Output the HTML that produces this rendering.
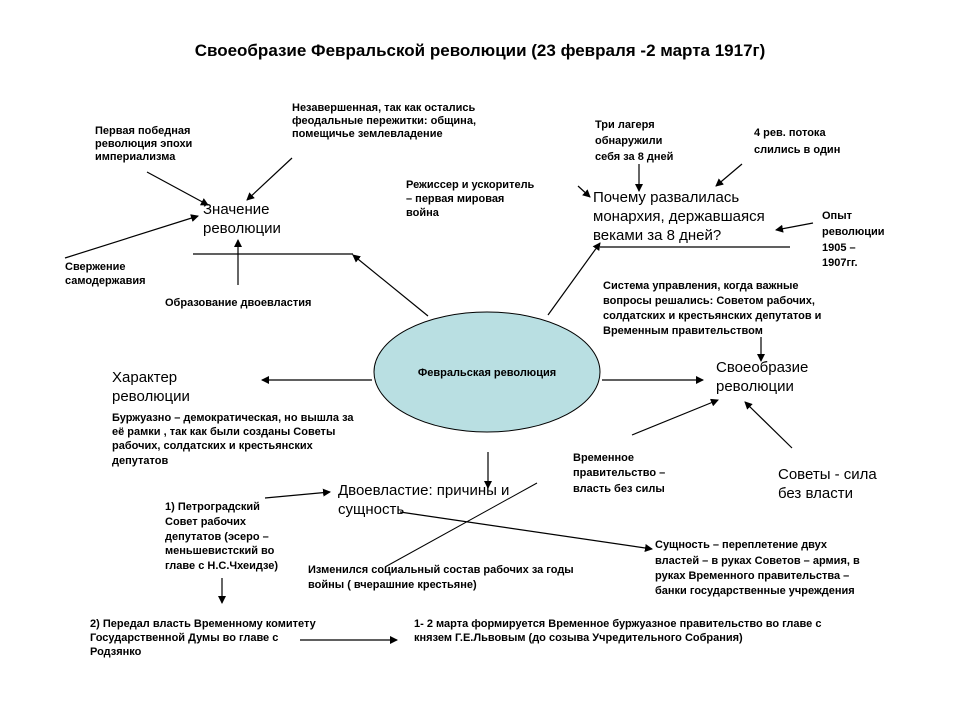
<!DOCTYPE html>
<html><head><meta charset="utf-8"><style>
html,body{margin:0;padding:0;background:#fff}
svg{display:block}
text{font-family:"Liberation Sans",sans-serif;fill:#000}
.b{font-size:11px;font-weight:bold}
.n{font-size:11px}
.h{font-size:15px}
</style></head><body>
<svg width="960" height="720" viewBox="0 0 960 720" xmlns="http://www.w3.org/2000/svg">
<defs><marker id="a" markerWidth="8" markerHeight="8" refX="7" refY="4" orient="auto" markerUnits="userSpaceOnUse"><path d="M0,0 L8,4 L0,8 z" fill="#000"/></marker></defs>
<text x="480" y="56" text-anchor="middle" style="font-size:17px;font-weight:bold">Своеобразие Февральской революции (23 февраля -2 марта 1917г)</text>
<ellipse cx="487" cy="372" rx="113" ry="60" fill="#b9dfe2" stroke="#000" stroke-width="1"/>
<text x="487" y="376" text-anchor="middle" class="b">Февральская  революция</text>
<g stroke="#000" stroke-width="1.2" fill="none">
<line x1="147" y1="172" x2="208" y2="205" marker-end="url(#a)"/>
<line x1="292" y1="158" x2="247" y2="200" marker-end="url(#a)"/>
<line x1="65" y1="258" x2="198" y2="216" marker-end="url(#a)"/>
<line x1="193" y1="254" x2="353" y2="254"/>
<line x1="238" y1="285" x2="238" y2="240" marker-end="url(#a)"/>
<line x1="428" y1="316" x2="353" y2="255" marker-end="url(#a)"/>
<line x1="578" y1="186" x2="590" y2="197" marker-end="url(#a)"/>
<line x1="639" y1="164" x2="639" y2="191" marker-end="url(#a)"/>
<line x1="742" y1="164" x2="716" y2="186" marker-end="url(#a)"/>
<line x1="600" y1="247" x2="790" y2="247"/>
<line x1="813" y1="223" x2="776" y2="230" marker-end="url(#a)"/>
<line x1="548" y1="315" x2="600" y2="243" marker-end="url(#a)"/>
<line x1="761" y1="337" x2="761" y2="361" marker-end="url(#a)"/>
<line x1="602" y1="380" x2="703" y2="380" marker-end="url(#a)"/>
<line x1="372" y1="380" x2="262" y2="380" marker-end="url(#a)"/>
<line x1="632" y1="435" x2="718" y2="400" marker-end="url(#a)"/>
<line x1="792" y1="448" x2="745" y2="402" marker-end="url(#a)"/>
<line x1="488" y1="452" x2="488" y2="488" marker-end="url(#a)"/>
<line x1="265" y1="498" x2="330" y2="492" marker-end="url(#a)"/>
<line x1="222" y1="578" x2="222" y2="603" marker-end="url(#a)"/>
<line x1="537" y1="483" x2="385" y2="567" stroke-width="1"/>
<line x1="400" y1="512" x2="652" y2="549" marker-end="url(#a)"/>
<line x1="300" y1="640" x2="397" y2="640" marker-end="url(#a)"/>
</g>
<g class="b">
<text x="95" y="134">Первая победная</text><text x="95" y="147">революция эпохи</text><text x="95" y="160">империализма</text>
<text x="292" y="111">Незавершенная, так как остались</text><text x="292" y="124">феодальные пережитки: община,</text><text x="292" y="137">помещичье землевладение</text>
<text x="65" y="270">Свержение</text><text x="65" y="284">самодержавия</text>
<text x="165" y="306">Образование двоевластия</text>
<text x="406" y="188">Режиссер  и ускоритель</text><text x="406" y="202">– первая мировая</text><text x="406" y="216">война</text>
<text x="595" y="128">Три лагеря</text><text x="595" y="144">обнаружили</text><text x="595" y="160">себя за 8 дней</text>
<text x="754" y="136">4 рев. потока</text><text x="754" y="153">слились  в  один</text>
<text x="822" y="219">Опыт</text><text x="822" y="235">революции</text><text x="822" y="251">1905 –</text><text x="822" y="266">1907гг.</text>
<text x="603" y="289">Система управления, когда важные</text><text x="603" y="304">вопросы решались: Советом рабочих,</text><text x="603" y="319">солдатских и крестьянских депутатов  и</text><text x="603" y="334">Временным правительством</text>
<text x="112" y="421">Буржуазно – демократическая, но вышла за</text><text x="112" y="435">её рамки , так как были созданы Советы</text><text x="112" y="449">рабочих, солдатских и крестьянских</text><text x="112" y="464">депутатов</text>
<text x="573" y="461">Временное</text><text x="573" y="476">правительство  –</text><text x="573" y="492">власть  без силы</text>
<text x="165" y="510">1) Петроградский</text><text x="165" y="525">Совет рабочих</text><text x="165" y="540">депутатов (эсеро –</text><text x="165" y="554">меньшевистский во</text><text x="165" y="569">главе с Н.С.Чхеидзе)</text>
<text x="308" y="573">Изменился социальный состав рабочих за годы</text><text x="308" y="588">войны ( вчерашние крестьяне)</text>
<text x="655" y="548">Сущность – переплетение двух</text><text x="655" y="564">властей – в руках Советов – армия, в</text><text x="655" y="579">руках Временного правительства –</text><text x="655" y="594">банки государственные учреждения</text>
<text x="90" y="627">2) Передал власть Временному комитету</text><text x="90" y="641">Государственной Думы во главе с</text><text x="90" y="655">Родзянко</text>
<text x="414" y="627">1- 2 марта формируется Временное буржуазное правительство во главе с</text><text x="414" y="641">князем Г.Е.Львовым  (до созыва Учредительного Собрания)</text>
</g>
<g class="h">
<text x="203" y="214">Значение</text><text x="203" y="233">революции</text>
<text x="593" y="202">Почему развалилась</text><text x="593" y="221">монархия, державшаяся</text><text x="593" y="240">веками за 8 дней?</text>
<text x="716" y="372">Своеобразие</text><text x="716" y="391">революции</text>
<text x="112" y="382">Характер</text><text x="112" y="401">революции</text>
<text x="778" y="479">Советы  - сила</text><text x="778" y="498">без власти</text>
<text x="338" y="495">Двоевластие: причины и</text><text x="338" y="514">сущность</text>
</g>
</svg>
</body></html>
